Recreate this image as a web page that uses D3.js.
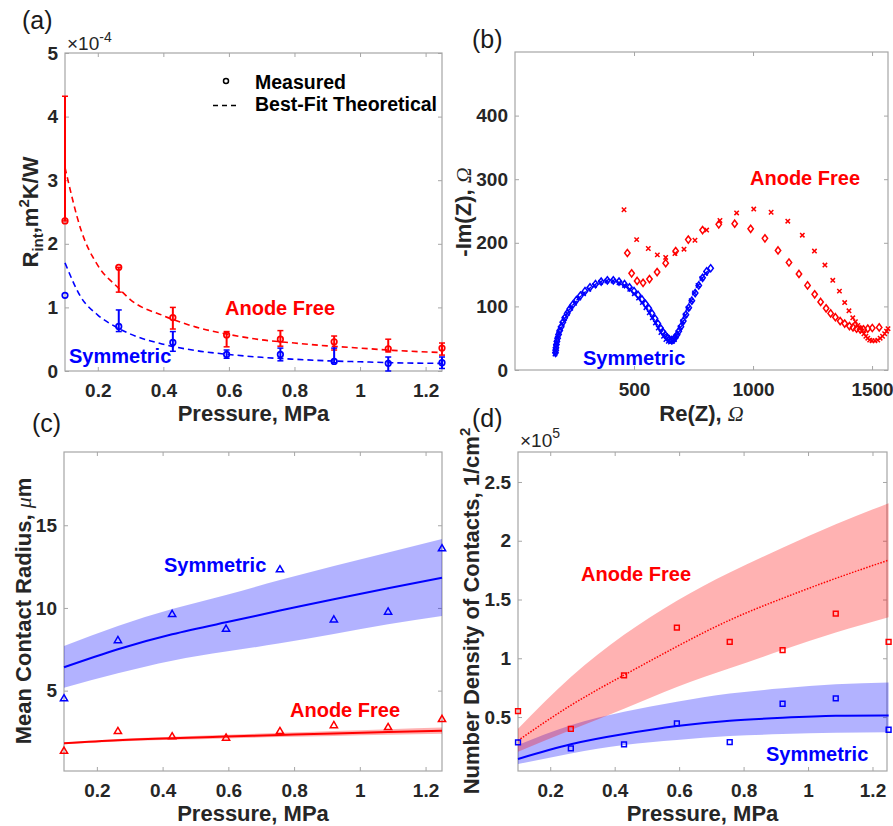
<!DOCTYPE html>
<html><head><meta charset="utf-8">
<script src="https://cdn.jsdelivr.net/npm/d3@7"></script>
<style>
body{margin:0;background:#fff}
text{font-family:"Liberation Sans",Arial,sans-serif}
</style></head><body>
<svg id="c" width="893" height="826" xmlns="http://www.w3.org/2000/svg"></svg>
<script>
// ---------- DATA ----------
const pressure = [0.1, 0.264, 0.429, 0.593, 0.757, 0.921, 1.086, 1.25];
const xTicksP = [0.2, 0.4, 0.6, 0.8, 1, 1.2];

// (a) interface resistance (x1e-4)
const rAnode   = [2.36, 1.63, 0.84, 0.567, 0.50, 0.46, 0.35, 0.36];
const rAnodeHi = [4.32, 1.63, 1.00, 0.62, 0.635, 0.55, 0.50, 0.44];
const rAnodeLo = [2.36, 1.24, 0.66, 0.38, 0.39, 0.33, 0.30, 0.25];
const rSym     = [1.19, 0.70, 0.45, 0.26, 0.26, 0.15, 0.12, 0.13];
const rSymHi   = [1.19, 0.96, 0.62, 0.33, 0.36, 0.36, 0.22, 0.22];
const rSymLo   = [1.19, 0.62, 0.31, 0.20, 0.16, 0.13, 0.00, 0.04];
const fitP      = [0.1, 0.15, 0.2, 0.26, 0.3, 0.4, 0.5, 0.6, 0.7, 0.8, 0.9, 1.0, 1.1, 1.25];
const fitAnode  = [3.2, 2.2, 1.66, 1.32, 1.12, 0.87, 0.69, 0.575, 0.49, 0.44, 0.395, 0.36, 0.325, 0.29];
const fitSym    = [1.7, 1.15, 0.88, 0.68, 0.58, 0.42, 0.32, 0.26, 0.215, 0.185, 0.16, 0.145, 0.13, 0.12];
const aYTicks = [0, 1, 2, 3, 4, 5];

// (b) Nyquist data [Re, -Im]
const symDiamond = [[170,27],[171,31],[172,35],[174,40],[176,45],[179,50],[183,56],[188,62],[194,68],[201,75],[209,82],[219,89],[230,96],[243,103],[258,110],[275,117],[294,124],[315,130],[338,135],[362,139],[388,141],[413,141],[437,139],[460,135],[481,130],[500,124],[517,118],[533,111],[548,104],[562,97],[575,89],[588,81],[600,73],[611,66],[621,60],[631,55],[640,51],[649,48],[658,47],[666,48],[673,51],[680,55],[688,61],[697,68],[707,77],[718,87],[730,98],[743,109],[757,121],[772,133],[788,145],[805,155],[822,160]];
const symCross = [[168,25],[169,30],[171,36],[174,43],[178,50],[183,57],[190,65],[198,73],[208,81],[220,89],[234,97],[250,105],[268,113],[288,120],[310,127],[334,133],[360,138],[386,140],[412,140],[437,137],[460,133],[482,127],[501,120],[519,113],[535,106],[550,98],[564,90],[577,82],[590,74],[602,66],[613,59],[624,53],[634,48],[644,45],[653,44],[662,45],[670,48],[677,53],[685,59],[694,67],[704,76],[715,86],[727,97],[740,109],[754,121],[769,133],[785,144],[801,152]];
const afDiamond = [[472,184],[490,152],[513,140],[538,137],[565,143],[597,154],[633,168],[675,187],[728,205],[788,220],[856,229],[923,230],[990,222],[1050,207],[1105,188],[1151,169],[1193,151],[1229,133],[1259,119],[1284,107],[1307,97],[1326,89],[1346,83],[1366,77],[1385,73],[1405,69],[1420,67],[1435,65],[1450,64],[1464,64],[1482,65],[1501,66],[1530,67]];
const afCross = [[458,252],[511,205],[560,191],[598,181],[633,177],[672,183],[710,190],[756,204],[805,220],[861,235],[931,247],[1003,253],[1076,248],[1146,234],[1207,212],[1258,187],[1302,165],[1335,141],[1363,124],[1385,106],[1403,93],[1419,82],[1430,76],[1440,70],[1450,66],[1458,61],[1466,57],[1474,53],[1482,50],[1490,47],[1500,46],[1512,46],[1524,47],[1534,50],[1544,53],[1553,57],[1561,61],[1567,65]];
const bXTicks = [500, 1000, 1500];
const bYTicks = [0, 100, 200, 300, 400];

// (c) mean contact radius (um)
const radSym      = [4.54, 8.06, 9.64, 8.75, 12.34, 9.31, 9.78, 13.61];
const radAnode    = [1.37, 2.56, 2.24, 2.16, 2.56, 2.92, 2.80, 3.29];
const radSymFit   = [6.41, 7.50, 8.41, 9.13, 9.84, 10.53, 11.19, 11.83];
const radSymUp    = [7.70, 8.91, 9.94, 10.79, 11.69, 12.54, 13.35, 14.17];
const radSymLow   = [5.18, 6.05, 6.81, 7.36, 7.86, 8.43, 9.01, 9.52];
const radAnodeFit = [1.81, 2.00, 2.12, 2.22, 2.32, 2.41, 2.50, 2.58];
const radAnodeUp  = [1.86, 2.07, 2.21, 2.33, 2.45, 2.56, 2.67, 2.77];
const radAnodeLow = [1.76, 1.93, 2.03, 2.11, 2.19, 2.26, 2.33, 2.40];
const cYTicks = [5, 10, 15];

// (d) number density (x1e5)
const densAnode    = [0.55, 0.40, 0.855, 1.26, 1.14, 1.07, 1.38, 1.14];
const densSym      = [0.285, 0.234, 0.268, 0.446, 0.287, 0.613, 0.659, 0.392];
const densAnodeFit = [0.30, 0.60, 0.857, 1.10, 1.325, 1.51, 1.68, 1.835];
const densAnodeUp  = [0.40, 0.84, 1.20, 1.49, 1.73, 1.94, 2.14, 2.32];
const densAnodeLow = [0.205, 0.39, 0.57, 0.755, 0.915, 1.07, 1.22, 1.35];
const densSymFit   = [0.143, 0.268, 0.355, 0.423, 0.469, 0.494, 0.511, 0.514];
const densSymUp    = [0.262, 0.43, 0.545, 0.63, 0.70, 0.744, 0.778, 0.795];
const densSymLow   = [0.10, 0.19, 0.262, 0.304, 0.338, 0.355, 0.366, 0.37];
const dYTicks = [0.5, 1, 1.5, 2, 2.5];

// ---------- DRAWING ----------
const RED = "#ff0000", BLUE = "#0000ff", BOX = "#a6a6a6", TXT = "#262626";
const svg = d3.select("#c");

function panel(p) {
  const x = d3.scaleLinear().domain(p.xd).range([p.l, p.r]);
  const y = d3.scaleLinear().domain(p.yd).range([p.b, p.t]);
  const g = svg.append("g");
  const style = sel => {
    sel.select(".domain").remove();
    sel.selectAll(".tick line").attr("stroke", BOX).attr("stroke-width", 1);
    sel.selectAll(".tick text").attr("fill", TXT).style("font-size", "19px").style("font-weight", "bold")
      .style("font-family", '"Liberation Sans",Arial,sans-serif');
  };
  g.append("g").attr("transform", `translate(0,${p.b})`)
    .call(d3.axisBottom(x).tickValues(p.xt).tickSize(-4).tickPadding(12.5).tickFormat(d => String(d))).call(style);
  g.append("g").attr("transform", `translate(0,${p.t})`)
    .call(d3.axisTop(x).tickValues(p.xt).tickSize(-4).tickFormat("")).call(style);
  g.append("g").attr("transform", `translate(${p.l},0)`)
    .call(d3.axisLeft(y).tickValues(p.yt).tickSize(-4).tickPadding(7).tickFormat(d => String(d))).call(style);
  g.append("g").attr("transform", `translate(${p.r},0)`)
    .call(d3.axisRight(y).tickValues(p.yt).tickSize(-4).tickFormat("")).call(style);
  g.append("rect").attr("x", p.l).attr("y", p.t).attr("width", p.r - p.l).attr("height", p.b - p.t)
    .attr("fill", "none").attr("stroke", BOX).attr("stroke-width", 1.2);
  const data = svg.append("g");
  return {x, y, g, data};
}

function xLabel(cx, yb, parts) {
  const t = svg.append("text").attr("x", cx).attr("y", yb).attr("text-anchor", "middle")
    .attr("fill", TXT).style("font-size", "22px").style("font-weight", "bold");
  parts.forEach(pt => addSpan(t, pt));
}
function yLabel(xb, cy, parts) {
  const t = svg.append("text").attr("transform", `translate(${xb},${cy}) rotate(-90)`).attr("text-anchor", "middle")
    .attr("fill", TXT).style("font-size", "22px").style("font-weight", "bold");
  parts.forEach(pt => addSpan(t, pt));
}
function addSpan(t, pt) {
  const s = t.append("tspan").text(pt.t);
  if (pt.dy) s.attr("dy", pt.dy);
  if (pt.fs) s.style("font-size", pt.fs);
  if (pt.greek) s.style("font-family", '"Liberation Serif","DejaVu Serif",serif').style("font-style", "italic").style("font-weight", "normal");
}
function label(txt, x, y, color, size) {
  svg.append("text").attr("x", x).attr("y", y).attr("fill", color)
    .style("font-size", (size || 20) + "px").style("font-weight", "bold").text(txt);
}
function letter(txt, x, y) {
  svg.append("text").attr("x", x).attr("y", y).attr("fill", "#1a1a1a").style("font-size", "25px").text(txt);
}

const triPath = "M0,-3.6L3.6,2.6L-3.6,2.6Z";
const sqPath = "M-2.4,-2.4H2.4V2.4H-2.4Z";
const diaPath = "M0,-3.6L2.7,0L0,3.6L-2.7,0Z";
const xPath = "M-2.2,-2.2L2.2,2.2M-2.2,2.2L2.2,-2.2";

function markers(ax, xs, ys, path, color, sw) {
  ax.data.append("g").selectAll("path").data(xs.map((v, i) => [v, ys[i]])).join("path")
    .attr("d", path).attr("transform", d => `translate(${ax.x(d[0])},${ax.y(d[1])})`)
    .attr("fill", "none").attr("stroke", color).attr("stroke-width", sw || 1.5);
}
function linePath(ax, xs, ys, color, w, dash, curve) {
  const l = d3.line().x(d => ax.x(d[0])).y(d => ax.y(d[1])).curve(curve || d3.curveNatural);
  const p = ax.data.append("path").attr("d", l(xs.map((v, i) => [v, ys[i]])))
    .attr("fill", "none").attr("stroke", color).attr("stroke-width", w);
  if (dash) p.attr("stroke-dasharray", dash);
}
function band(ax, xs, lo, hi, color, op) {
  const a = d3.area().x(d => ax.x(d[0])).y0(d => ax.y(d[1])).y1(d => ax.y(d[2])).curve(d3.curveNatural);
  ax.data.append("path").attr("d", a(xs.map((v, i) => [v, lo[i], hi[i]])))
    .attr("fill", color).attr("fill-opacity", op).attr("stroke", "none");
}

// ===== Panel (a) =====
const A = panel({l: 65, r: 442, t: 53, b: 371, xd: [0.1, 1.25], yd: [0, 5], xt: xTicksP, yt: aYTicks});
linePath(A, fitP, fitAnode, RED, 1.6, "6,4", d3.curveMonotoneX);
linePath(A, fitP, fitSym, BLUE, 1.6, "6,4", d3.curveMonotoneX);
function errbars(ax, xs, lo, hi, color) {
  const g = ax.data.append("g").attr("stroke", color).attr("stroke-width", 2);
  xs.forEach((v, i) => {
    const X = ax.x(v), y1 = ax.y(lo[i]), y2 = ax.y(hi[i]);
    if (Math.abs(y1 - y2) < 0.5) return;
    g.append("line").attr("x1", X).attr("x2", X).attr("y1", y1).attr("y2", y2);
    g.append("line").attr("x1", X - 3).attr("x2", X + 3).attr("y1", y1).attr("y2", y1).attr("stroke-width", 1.5);
    g.append("line").attr("x1", X - 3).attr("x2", X + 3).attr("y1", y2).attr("y2", y2).attr("stroke-width", 1.5);
  });
}
errbars(A, pressure, rAnodeLo, rAnodeHi, RED);
errbars(A, pressure, rSymLo, rSymHi, BLUE);
markers(A, pressure, rAnode, d3.symbol(d3.symbolCircle, 24)(), RED, 1.7);
markers(A, pressure, rSym, d3.symbol(d3.symbolCircle, 24)(), BLUE, 1.7);
// legend
svg.append("circle").attr("cx", 226).attr("cy", 81).attr("r", 2.5).attr("fill", "none").attr("stroke", "#000").attr("stroke-width", 1.5);
svg.append("line").attr("x1", 213).attr("x2", 239).attr("y1", 105.5).attr("y2", 105.5).attr("stroke", "#000").attr("stroke-width", 1.5).attr("stroke-dasharray", "5,4");
label("Measured", 255, 89, "#000", 19.5);
label("Best-Fit Theoretical", 255, 111, "#000", 19.5);
label("Anode Free", 225, 315, RED);
label("Symmetric", 69, 363, BLUE);
// exponent
{
  const t = svg.append("text").attr("x", 67).attr("y", 50).attr("fill", TXT).style("font-size", "19px");
  t.append("tspan").text("×10");
  t.append("tspan").text("-4").attr("dy", -8).style("font-size", "14px");
}
xLabel(253.5, 421, [{t: "Pressure, MPa"}]);
yLabel(38, 212, [{t: "R"}, {t: "int", dy: 5, fs: "15px"}, {t: ",m", dy: -5, fs: "22px"}, {t: "2", dy: -9, fs: "15px"}, {t: "K/W", dy: 9, fs: "22px"}]);
letter("(a)", 22, 29);

// ===== Panel (b) =====
const B = panel({l: 515, r: 888, t: 52, b: 370, xd: [0, 1567], yd: [0, 500], xt: bXTicks, yt: bYTicks});
function xy(ax, pts, path, color, sw) {
  markers(ax, pts.map(d => d[0]), pts.map(d => d[1]), path, color, sw);
}
xy(B, symCross, xPath, BLUE, 1.5);
xy(B, symDiamond, diaPath, BLUE, 1.5);
xy(B, afCross, xPath, RED, 1.5);
xy(B, afDiamond, diaPath, RED, 1.5);
label("Anode Free", 750, 185, RED);
label("Symmetric", 583, 365, BLUE);
xLabel(701.5, 421, [{t: "Re(Z), "}, {t: "Ω", greek: true}]);
yLabel(471, 212, [{t: "-Im(Z), "}, {t: "Ω", greek: true}]);
letter("(b)", 472, 48);

// ===== Panel (c) =====
const C = panel({l: 64, r: 442, t: 452, b: 771, xd: [0.1, 1.25], yd: [0.14, 19.43], xt: xTicksP, yt: cYTicks});
band(C, pressure, radSymLow, radSymUp, BLUE, 0.3);
band(C, pressure, radAnodeLow, radAnodeUp, RED, 0.3);
linePath(C, pressure, radSymFit, BLUE, 2);
linePath(C, pressure, radAnodeFit, RED, 2);
markers(C, pressure, radSym, triPath, BLUE, 1.5);
markers(C, pressure, radAnode, triPath, RED, 1.5);
label("Symmetric", 164, 572, BLUE);
label("Anode Free", 290, 717, RED);
xLabel(253, 821, [{t: "Pressure, MPa"}]);
yLabel(31, 611, [{t: "Mean Contact Radius, "}, {t: "μ", greek: true}, {t: "m"}]);
letter("(c)", 32, 432);

// ===== Panel (d) =====
const D = panel({l: 518, r: 887, t: 452, b: 771, xd: [0.1, 1.245], yd: [0.041, 2.755], xt: xTicksP, yt: dYTicks});
band(D, pressure, densSymLow, densSymUp, BLUE, 0.3);
band(D, pressure, densAnodeLow, densAnodeUp, RED, 0.3);
linePath(D, pressure, densAnodeFit, RED, 1.5, "1.5,1.5");
linePath(D, pressure, densSymFit, BLUE, 2);
markers(D, pressure, densAnode, sqPath, RED, 1.5);
markers(D, pressure, densSym, sqPath, BLUE, 1.5);
label("Anode Free", 581, 581, RED);
label("Symmetric", 766, 761, BLUE);
{
  const t = svg.append("text").attr("x", 520).attr("y", 447).attr("fill", TXT).style("font-size", "19px");
  t.append("tspan").text("×10");
  t.append("tspan").text("5").attr("dy", -9).style("font-size", "14px");
}
xLabel(702.5, 821, [{t: "Pressure, MPa"}]);
yLabel(479, 611, [{t: "Number Density of Contacts, 1/cm"}, {t: "2", dy: -9, fs: "15px"}]);
letter("(d)", 472, 427);
</script>
</body></html>
